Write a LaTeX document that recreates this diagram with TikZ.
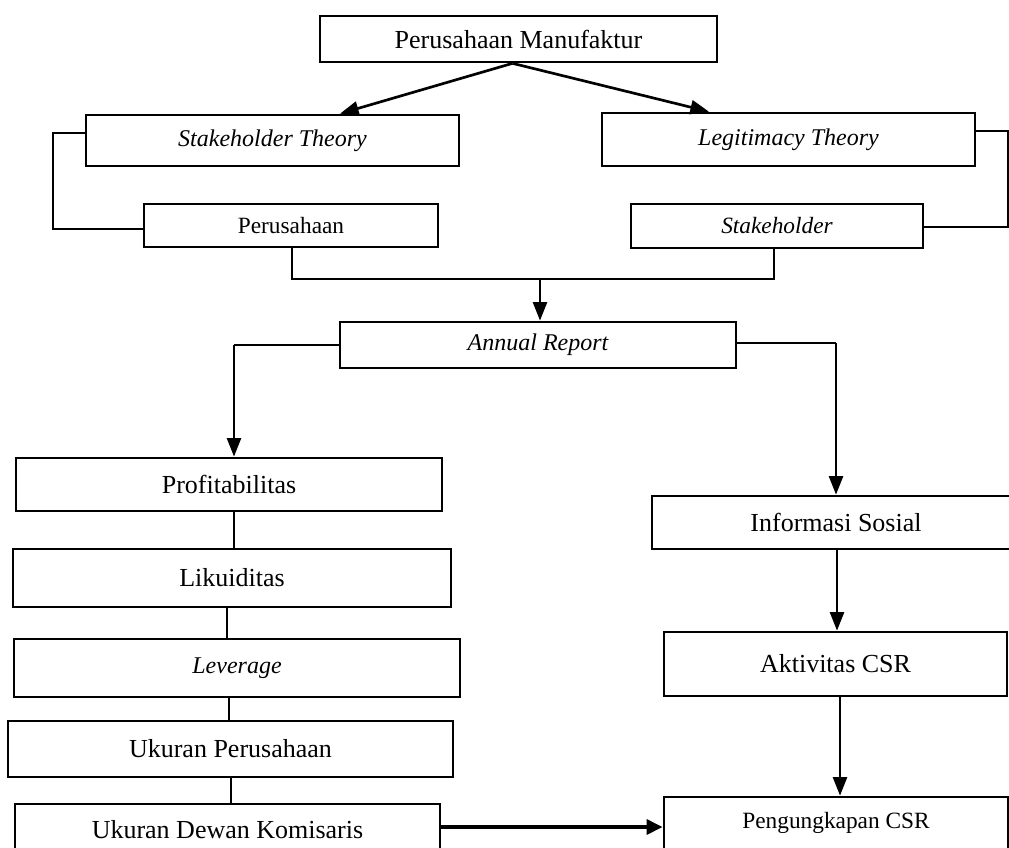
\documentclass[tikz,border=0pt]{standalone}
\usepackage{fontspec}
\setmainfont{Liberation Serif}
\usetikzlibrary{arrows.meta,calc}
\begin{document}
\begin{tikzpicture}[x=0.75pt,y=-0.75pt,
  box/.style={draw,line width=2pt,inner sep=0pt,font=\fontsize{19.5}{22}\selectfont},
  ibox/.style={box,font=\fontsize{18}{22}\selectfont\itshape},
  sbox/.style={box,font=\fontsize{17.5}{22}\selectfont},
  thinln/.style={line width=0.9pt},
  arr/.style={line width=2pt,-{Triangle[length=14pt,width=10.5pt]}},
  thickarr/.style={line width=3pt,-{Triangle[length=12pt,width=11pt]}}]
\useasboundingbox (0,0) rectangle (1009,847);
\clip (0,0) rectangle (1009,847);
% boxes
\node[box,minimum width=297.75pt,minimum height=34.5pt] (top) at (518.5,39) {Perusahaan Manufaktur};
\node[ibox,minimum width=279.75pt,minimum height=38.25pt] (stT) at (272.5,140.5) {Stakeholder Theory};
\node[ibox,minimum width=279.75pt,minimum height=39.75pt] (legT) at (788.5,139.5) {Legitimacy Theory};
\node[sbox,minimum width=220.5pt,minimum height=32.25pt] (per) at (291,225.5) {Perusahaan};
\node[sbox,minimum width=219pt,minimum height=33pt,font=\fontsize{17.5}{22}\selectfont\itshape] (stk) at (777,226) {Stakeholder};
\node[ibox,minimum width=297pt,minimum height=34.5pt] (ann) at (538,345) {Annual Report};
\node[box,minimum width=319.5pt,minimum height=39.75pt] (prof) at (229,484.5) {Profitabilitas};
\node[box,minimum width=328.5pt,minimum height=43.5pt] (lik) at (232,578) {Likuiditas};
\node[ibox,minimum width=334.5pt,minimum height=43.5pt] (lev) at (237,668) {Leverage};
\node[box,minimum width=333.75pt,minimum height=42pt] (uku) at (230.5,749) {Ukuran Perusahaan};
\node[box,minimum width=318.75pt,minimum height=39pt] (dew) at (227.5,830) {Ukuran Dewan Komisaris};
\node[box,minimum width=276pt,minimum height=39.75pt] (info) at (836,522.5) {Informasi Sosial};
\node[box,minimum width=257.25pt,minimum height=48pt] (akt) at (835.5,664) {Aktivitas CSR};
\node[sbox,minimum width=258pt,minimum height=39pt] (peng) at (836,823) {Pengungkapan CSR};
% top arrows
\draw[arr] ($(top.south)+(-6,0)$) -- ($(stT.north)+(67.5,0)$);
\draw[arr] ($(top.south)+(-6,0)$) -- ($(legT.north)+(-79.5,0)$);
% brackets
\draw[thinln] (stT.west |- 0,133) -- (53,133) -- (53,229) -- (per.west |- 0,229);
\draw[thinln] (legT.east |- 0,131) -- (1008,131) -- (1008,227) -- (stk.east |- 0,227);
\coordinate (j) at (540,279);
\draw[thinln] (per.south -| 292,0) -- (292,279) -- (774,279) -- (stk.south -| 774,0);
\draw[arr] (j) -- (ann.north -| j);
% annual report branches
\coordinate (lc) at (234,345);
\coordinate (rc) at (836,343);
\draw[thinln] (ann.west |- lc) -- (lc);
\draw[arr] (lc) -- (prof.north -| lc);
\draw[thinln] (ann.east |- rc) -- (rc);
\draw[arr] (rc) -- (info.north -| rc);
% left column links
\draw[thinln] (prof.south -| 234,0) -- (lik.north -| 234,0);
\draw[thinln] (lik.south -| 227,0) -- (lev.north -| 227,0);
\draw[thinln] (lev.south -| 229,0) -- (uku.north -| 229,0);
\draw[thinln] (uku.south -| 231,0) -- (dew.north -| 231,0);
% right column arrows
\draw[arr] (info.south -| 837,0) -- (akt.north -| 837,0);
\draw[arr] (akt.south -| 840,0) -- (peng.north -| 840,0);
\draw[thickarr] (dew.east |- 0,827) -- (peng.west |- 0,827);
\end{tikzpicture}
\end{document}
